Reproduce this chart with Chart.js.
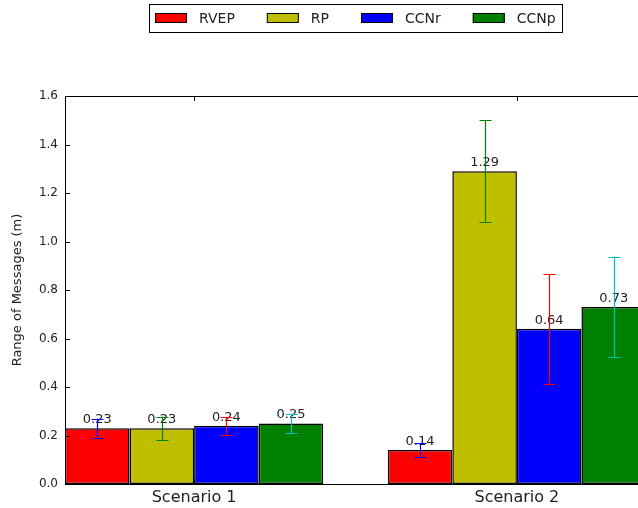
<!DOCTYPE html>
<html>
<head>
<meta charset="utf-8">
<script src="https://cdn.jsdelivr.net/npm/chart.js@4"></script>
<style>
  html, body { margin: 0; padding: 0; background: #fff; }
  #wrap { width: 638px; height: 508px; overflow: hidden; }
  canvas { display: block; }
</style>
</head>
<body>
<div id="wrap"><canvas id="chart" width="660" height="508"></canvas></div>
<script>
const categories = ['Scenario 1', 'Scenario 2'];
const seriesNames = ['RVEP', 'RP', 'CCNr', 'CCNp'];
const rvep = [0.23, 0.14];
const rp = [0.23, 1.29];
const ccnr = [0.24, 0.64];
const ccnp = [0.25, 0.73];
const rvepErr = [0.04, 0.028];
const rpErr = [0.048, 0.21];
const ccnrErr = [0.036, 0.226];
const ccnpErr = [0.04, 0.208];
const yTicks = [0, 0.2, 0.4, 0.6, 0.8, 1.0, 1.2, 1.4, 1.6];

const values = [rvep, rp, ccnr, ccnp];
const errors = [rvepErr, rpErr, ccnrErr, ccnpErr];
const barColors = ['#ff0000', '#bfbf00', '#0000ff', '#008000'];
const errColors = ['#0000ff', '#008000', '#ff0000', '#00bfbf'];
const textColor = '#222';
const font = 'DejaVu Sans';

// matplotlib style: groups at i, label at i + 0.4, bar width 0.2
const groupCenter = i => i + 0.4;

const datasets = seriesNames.map((name, s) => ({
    label: name,
    data: values[s].map((v, i) => ({ x: groupCenter(i), y: v })),
    backgroundColor: barColors[s],
    borderColor: '#000',
    borderWidth: 1.5,
    borderSkipped: false,
    categoryPercentage: 0.8,
    barPercentage: 1.0
}));

const framePlugin = {
    id: 'frame',
    afterDatasetsDraw(chart) {
        const { ctx, chartArea: a, scales: { x, y } } = chart;
        ctx.save();

        // value labels
        ctx.font = `13px "${font}"`;
        ctx.fillStyle = textColor;
        ctx.textAlign = 'center';
        ctx.textBaseline = 'bottom';
        chart.data.datasets.forEach((ds, s) => {
            chart.getDatasetMeta(s).data.forEach((bar, i) => {
                ctx.fillText(values[s][i].toFixed(2), bar.x, bar.y - 2);
            });
        });

        // error bars
        ctx.lineWidth = 1.2;
        chart.data.datasets.forEach((ds, s) => {
            ctx.strokeStyle = errColors[s];
            chart.getDatasetMeta(s).data.forEach((bar, i) => {
                const top = y.getPixelForValue(values[s][i] + errors[s][i]);
                const bot = y.getPixelForValue(values[s][i] - errors[s][i]);
                const cx = Math.round(bar.x) + 0.5;
                ctx.beginPath();
                ctx.moveTo(cx, top); ctx.lineTo(cx, bot);
                ctx.moveTo(cx - 6, Math.round(top) + 0.5); ctx.lineTo(cx + 6, Math.round(top) + 0.5);
                ctx.moveTo(cx - 6, Math.round(bot) + 0.5); ctx.lineTo(cx + 6, Math.round(bot) + 0.5);
                ctx.stroke();
            });
        });

        // frame and inward ticks
        ctx.strokeStyle = '#000';
        ctx.lineWidth = 1;
        ctx.strokeRect(Math.round(a.left) + 0.5, Math.round(a.top) + 0.5,
            Math.round(a.right - a.left), Math.round(a.bottom - a.top));
        ctx.beginPath();
        yTicks.forEach(v => {
            const py = Math.round(y.getPixelForValue(v)) + 0.5;
            ctx.moveTo(a.left, py); ctx.lineTo(a.left + 5, py);
            ctx.moveTo(a.right, py); ctx.lineTo(a.right - 5, py);
        });
        categories.forEach((c, i) => {
            const px = Math.round(x.getPixelForValue(groupCenter(i))) + 0.5;
            ctx.moveTo(px, a.top); ctx.lineTo(px, a.top + 5);
            ctx.moveTo(px, a.bottom); ctx.lineTo(px, a.bottom - 5);
        });
        ctx.stroke();
        ctx.restore();
    },
    afterDraw(chart) {
        // boxed legend above the plot
        const ctx = chart.ctx;
        ctx.save();
        ctx.font = `14px "${font}"`;
        const patchW = 32, patchH = 10, gapText = 12, gapItem = 32, pad = 6;
        const widths = seriesNames.map(n => ctx.measureText(n).width);
        const total = widths.reduce((t, w) => t + patchW + gapText + w, 0) + gapItem * (seriesNames.length - 1) + pad * 2;
        const left = Math.round(355.5 - total / 2);
        const top = 4, height = 28;
        ctx.lineWidth = 1;
        ctx.strokeStyle = '#000';
        ctx.fillStyle = '#fff';
        ctx.fillRect(left, top, total, height);
        ctx.strokeRect(left + 0.5, top + 0.5, Math.round(total), height);
        let cx = left + pad;
        const midY = top + height / 2;
        ctx.textBaseline = 'middle';
        ctx.textAlign = 'left';
        seriesNames.forEach((n, s) => {
            ctx.fillStyle = barColors[s];
            ctx.fillRect(cx, midY - patchH / 2, patchW, patchH);
            ctx.strokeRect(cx + 0.5, midY - patchH / 2 + 0.5, patchW - 1, patchH - 1);
            ctx.fillStyle = textColor;
            ctx.fillText(n, cx + patchW + gapText, midY + 1);
            cx += patchW + gapText + widths[s] + gapItem;
        });
        ctx.restore();
    }
};

new Chart(document.getElementById('chart'), {
    type: 'bar',
    data: { datasets },
    options: {
        responsive: false,
        animation: false,
        devicePixelRatio: 1,
        layout: { padding: { top: 96, right: 14, left: 0, bottom: 0 } },
        plugins: {
            legend: { display: false },
            tooltip: { enabled: false }
        },
        scales: {
            x: {
                type: 'linear',
                min: 0,
                max: 1.8,
                offset: false,
                grid: { display: false, drawTicks: false, offset: false },
                border: { display: false },
                afterBuildTicks: axis => {
                    axis.ticks = categories.map((c, i) => ({ value: groupCenter(i) }));
                },
                afterFit: axis => { axis.height = 24; },
                ticks: {
                    autoSkip: false,
                    maxRotation: 0,
                    padding: 4,
                    color: textColor,
                    font: { family: font, size: 16 },
                    callback: (v, i) => categories[i]
                }
            },
            y: {
                min: 0,
                max: 1.6,
                grid: { display: false, drawTicks: false },
                border: { display: false },
                afterBuildTicks: axis => {
                    axis.ticks = yTicks.map(v => ({ value: v }));
                },
                afterFit: axis => { axis.width = 65; },
                ticks: {
                    padding: 7,
                    color: textColor,
                    font: { family: font, size: 12 },
                    callback: v => v.toFixed(1)
                },
                title: {
                    display: true,
                    text: 'Range of Messages (m)',
                    color: textColor,
                    font: { family: font, size: 13 },
                    padding: { top: 10, bottom: 0 }
                }
            }
        }
    },
    plugins: [framePlugin]
});
</script>
</body>
</html>
